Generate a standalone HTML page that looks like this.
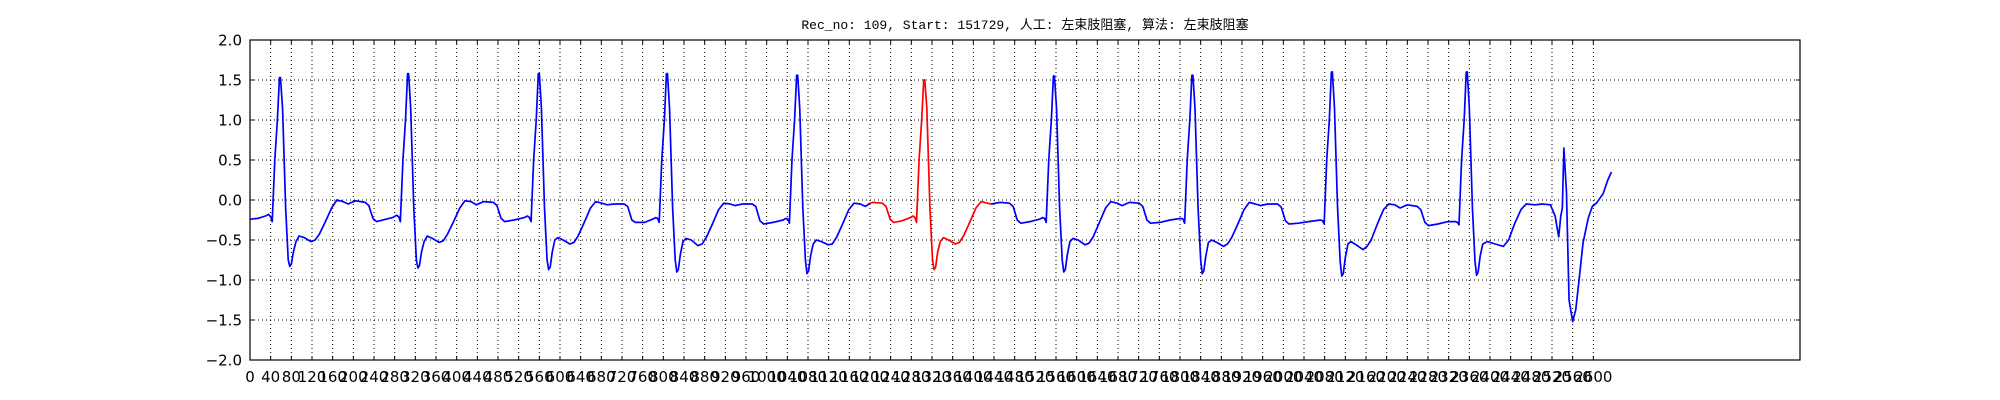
<!DOCTYPE html>
<html><head><meta charset="utf-8">
<style>
html,body{margin:0;padding:0;background:#fff;}
svg{display:block;}
text{font-family:"DejaVu Sans","Liberation Sans",sans-serif;}
</style></head>
<body>
<svg id="chart" width="2000" height="400" viewBox="0 0 2000 400" xmlns="http://www.w3.org/2000/svg">
<rect width="2000" height="400" fill="#fff"/>
<text x="1025" y="29" text-anchor="middle" font-size="13" style="font-family:'Liberation Mono','Noto Sans CJK SC',monospace" fill="#000">Rec_no: 109, Start: 151729, 人工: 左束肢阻塞, 算法: 左束肢阻塞</text>
<g id="grid"></g>
<g id="series"></g>
<g id="axes"></g>
</svg>
<script>
const xTicks = [];
for (let v = 0; v <= 2600; v += 40) xTicks.push(v);
const yTicks = [-2.0,-1.5,-1.0,-0.5,0.0,0.5,1.0,1.5,2.0];
const yTickLabels = ["\u22122.0","\u22121.5","\u22121.0","\u22120.5","0.0","0.5","1.0","1.5","2.0"];

// segment 1 (blue), sample index / amplitude
const blue1Idx = [0,15,30,
36,40,43,48,53,57,59,63,69,74,77,80,84,89,95,105,118,126,134,146,158,168,180,190,204,223,230,238,245,263,276,
284,288,291,296,301,305,307,311,317,322,325,328,332,337,343,353,366,374,382,394,406,416,428,438,452,471,478,486,493,511,531,
537,541,544,549,554,558,560,564,570,575,578,581,585,590,596,606,619,627,635,647,659,669,681,691,705,724,731,739,746,764,779,
785,789,792,797,802,806,808,812,818,823,826,829,833,838,844,854,867,875,883,895,907,917,929,939,953,972,979,987,994,1012,1032,
1037,1041,1044,1049,1054,1058,1060,1064,1070,1075,1078,1081,1085,1090,1096,1106,1119,1127,1135,1147,1159,1169,1181,1191,1200];
const blue1Val = [-0.24,-0.23,-0.2,
-0.18,-0.21,-0.27,0.5,1.0,1.53,1.53,1.15,-0.1,-0.75,-0.83,-0.8,-0.65,-0.52,-0.45,-0.47,-0.52,-0.5,-0.43,-0.27,-0.1,0.0,-0.02,-0.05,-0.01,-0.03,-0.07,-0.23,-0.27,-0.24,-0.22,
-0.19,-0.21,-0.27,0.5,1.0,1.58,1.58,1.15,-0.1,-0.75,-0.85,-0.82,-0.65,-0.52,-0.45,-0.48,-0.53,-0.51,-0.43,-0.27,-0.1,-0.01,-0.02,-0.06,-0.02,-0.03,-0.07,-0.23,-0.27,-0.25,-0.22,
-0.2,-0.22,-0.27,0.5,1.0,1.58,1.58,1.15,-0.1,-0.75,-0.87,-0.84,-0.65,-0.5,-0.47,-0.5,-0.55,-0.53,-0.45,-0.28,-0.1,-0.02,-0.04,-0.06,-0.05,-0.05,-0.08,-0.25,-0.28,-0.28,-0.24,
-0.22,-0.23,-0.28,0.5,1.0,1.58,1.58,1.15,-0.1,-0.75,-0.9,-0.87,-0.68,-0.52,-0.48,-0.5,-0.57,-0.55,-0.47,-0.3,-0.12,-0.04,-0.05,-0.07,-0.05,-0.05,-0.08,-0.26,-0.3,-0.28,-0.25,
-0.23,-0.24,-0.29,0.5,1.0,1.56,1.56,1.15,-0.1,-0.75,-0.92,-0.89,-0.7,-0.55,-0.5,-0.52,-0.56,-0.55,-0.47,-0.3,-0.12,-0.04,-0.05,-0.08,-0.04];

// segment 2 (red)
const redIdx = [1200,1205,1224,1231,1239,1246,1262,1278,
1283,1287,1290,1295,1300,1304,1306,1310,1316,1321,1324,1327,1331,1336,1342,1352,1365,1373,1381,1393,1405,1415,1427,1435];
const redVal = [-0.04,-0.03,-0.04,-0.08,-0.24,-0.28,-0.26,-0.22,
-0.2,-0.22,-0.28,0.5,1.0,1.5,1.5,1.15,-0.1,-0.75,-0.87,-0.84,-0.65,-0.52,-0.47,-0.5,-0.55,-0.53,-0.45,-0.28,-0.1,-0.02,-0.04,-0.05];

// segment 3 (blue)
const blue2Idx = [1435,1451,1470,1477,1485,1492,1510,1528,
1534,1538,1541,1546,1551,1555,1557,1561,1567,1572,1575,1578,1582,1587,1593,1603,1616,1624,1632,1644,1656,1666,1678,1688,1702,1721,1728,1736,1743,1761,1781,
1802,1806,1809,1814,1819,1823,1825,1829,1835,1840,1843,1846,1850,1855,1861,1871,1884,1892,1900,1912,1924,1934,1946,1956,1970,1989,1996,2004,2011,2029,2049,
2072,2076,2079,2084,2089,2093,2095,2099,2105,2110,2113,2116,2120,2125,2131,2141,2154,2162,2170,2182,2194,2204,2216,2226,2240,2259,2266,2274,2281,2299,2319,
2333,2337,2340,2345,2350,2354,2356,2360,2366,2371,2374,2377,2381,2386,2395,2410,2426,2436,2448,2460,2470,2487,2501,2517,
2526,2533,2537,2540,2543,2548,2553,2560,2566,2572,2580,2590,2598,2606,2619,2628,2635];
const blue2Val = [-0.05,-0.03,-0.04,-0.08,-0.25,-0.29,-0.27,-0.24,
-0.22,-0.23,-0.28,0.5,1.0,1.55,1.55,1.15,-0.1,-0.75,-0.9,-0.87,-0.68,-0.52,-0.48,-0.5,-0.56,-0.54,-0.46,-0.28,-0.1,-0.02,-0.04,-0.07,-0.03,-0.04,-0.08,-0.25,-0.29,-0.28,-0.25,
-0.23,-0.24,-0.29,0.5,1.0,1.56,1.56,1.15,-0.1,-0.75,-0.92,-0.89,-0.7,-0.53,-0.5,-0.53,-0.58,-0.55,-0.47,-0.3,-0.12,-0.03,-0.05,-0.07,-0.05,-0.05,-0.09,-0.26,-0.3,-0.29,-0.27,
-0.25,-0.26,-0.3,0.5,1.0,1.6,1.6,1.15,-0.1,-0.77,-0.95,-0.92,-0.72,-0.55,-0.52,-0.56,-0.62,-0.58,-0.5,-0.3,-0.12,-0.05,-0.06,-0.1,-0.06,-0.08,-0.12,-0.28,-0.32,-0.3,-0.27,
-0.27,-0.28,-0.31,0.5,1.0,1.6,1.6,1.15,-0.1,-0.77,-0.94,-0.9,-0.7,-0.55,-0.52,-0.55,-0.58,-0.5,-0.29,-0.12,-0.05,-0.06,-0.05,-0.06,
-0.2,-0.46,-0.2,-0.1,0.65,0.1,-1.25,-1.52,-1.37,-1.02,-0.54,-0.23,-0.08,-0.04,0.08,0.25,0.35];

const L = 250, R = 1800, T = 40, B = 360;
const xMin = 0, xMax = 3000, yMin = -2, yMax = 2;
const xs = v => L + (v - xMin) / (xMax - xMin) * (R - L);
const ys = v => B - (v - yMin) / (yMax - yMin) * (B - T);
const NS = "http://www.w3.org/2000/svg";
const mk = (tag, attrs, parent) => { const e = document.createElementNS(NS, tag); for (const k in attrs) e.setAttribute(k, attrs[k]); parent.appendChild(e); return e; };

const grid = document.getElementById('grid');
const axes = document.getElementById('axes');
const series = document.getElementById('series');

xTicks.forEach(v => {
  const x = xs(v);
  const g = mk('line', {x1:x, x2:x, y1:T, y2:B, stroke:'#000', 'stroke-width':1, 'stroke-dasharray':'1,3'}, grid);
  
  
  const t1 = mk('line', {x1:x, x2:x, y1:B, y2:B-4, stroke:'#000', 'stroke-width':1}, axes);
  
  
  const t2 = mk('line', {x1:x, x2:x, y1:T, y2:T+4, stroke:'#000', 'stroke-width':1}, axes);
  
  
  const lb = mk('text', {x:x, y:382, 'text-anchor':'middle', 'font-size':15, fill:'#000'}, axes);
  lb.textContent = String(v);
  
  
});
yTicks.forEach((v, i) => {
  const y = ys(v);
  if (v > yMin && v < yMax) {
    const g = mk('line', {x1:L, x2:R, y1:y, y2:y, stroke:'#000', 'stroke-width':1, 'stroke-dasharray':'1,3'}, grid);
    
    
  }
  const t1 = mk('line', {x1:L, x2:L+4, y1:y, y2:y, stroke:'#000', 'stroke-width':1}, axes);
  
  
  const t2 = mk('line', {x1:R, x2:R-4, y1:y, y2:y, stroke:'#000', 'stroke-width':1}, axes);
  
  
  const lb = mk('text', {x:L-8, y:y+5.5, 'text-anchor':'end', 'font-size':15, fill:'#000'}, axes);
  lb.textContent = yTickLabels[i];
  
  
});
const frame = mk('rect', {x:L, y:T, width:R-L, height:B-T, fill:'none', stroke:'#000', 'stroke-width':1.2}, axes);



function drawLine(idx, val, color, name) {
  const pts = idx.map((s, i) => xs(s).toFixed(2) + ',' + ys(val[i]).toFixed(2)).join(' ');
  const p = mk('polyline', {points:pts, fill:'none', stroke:color, 'stroke-width':1.7, 'stroke-linejoin':'round'}, series);
  
  
}
drawLine(blue1Idx, blue1Val, '#0000ff', 'ecg-line-segment-1');
drawLine(redIdx, redVal, '#ff0000', 'ecg-line-highlighted-beat');
drawLine(blue2Idx, blue2Val, '#0000ff', 'ecg-line-segment-2');
</script>
</body></html>
